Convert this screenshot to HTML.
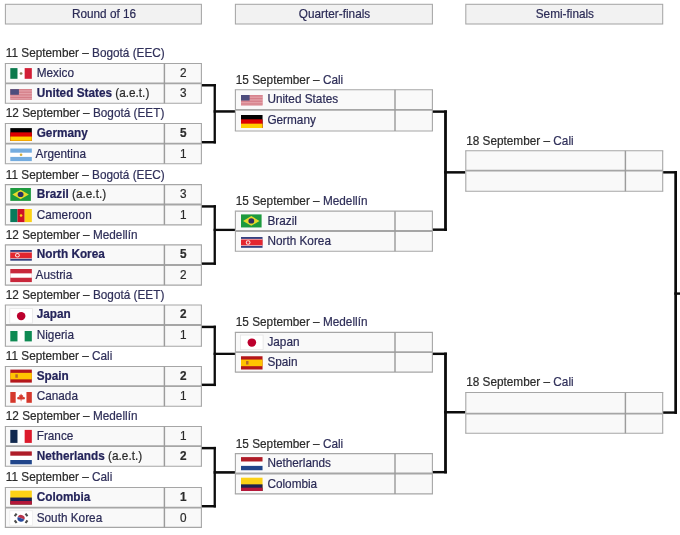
<!DOCTYPE html><html><head><meta charset="utf-8"><title>Bracket</title><style>html,body{margin:0;padding:0;background:#fff;}
body{width:680px;height:535px;overflow:hidden;}
svg{display:block;will-change:transform;filter:blur(0.3px);font-family:"Liberation Sans",sans-serif;font-size:11.8px;}
text{white-space:pre;stroke-width:0.2px}
.t{fill:#2b2b2b;stroke:#2b2b2b}
.k{fill:#2b2b56;stroke:#2b2b56}
.k[font-weight=bold]{fill:#24245a;stroke:#24245a}
tspan.k{fill:#30305a;stroke:#30305a}</style></head><body><svg width="680" height="535" viewBox="0 0 680 535"><rect width="680" height="535" fill="#fff"/><rect x="5.4" y="4.3" width="196.00" height="19.7" fill="#f2f2f2" stroke="#a6a6a6" stroke-width="1.05"/>
<text transform="translate(104.00 18.00) scale(1 1.065)" class="k" text-anchor="middle">Round of 16</text>
<rect x="235.4" y="4.3" width="197.00" height="19.7" fill="#f2f2f2" stroke="#a6a6a6" stroke-width="1.05"/>
<text transform="translate(334.50 18.00) scale(1 1.065)" class="k" text-anchor="middle">Quarter-finals</text>
<rect x="465.8" y="4.3" width="196.90" height="19.7" fill="#f2f2f2" stroke="#a6a6a6" stroke-width="1.05"/>
<text transform="translate(564.85 18.00) scale(1 1.065)" class="k" text-anchor="middle">Semi-finals</text>
<rect x="5.40" y="63.45" width="196.00" height="39.85" fill="#f9f9f9"/>
<line x1="4.85" y1="63.45" x2="201.95" y2="63.45" stroke="#a6a6a6" stroke-width="1.1"/>
<line x1="4.85" y1="103.30" x2="201.95" y2="103.30" stroke="#a6a6a6" stroke-width="1.1"/>
<line x1="5.40" y1="63.45" x2="5.40" y2="103.30" stroke="#a6a6a6" stroke-width="1.1"/>
<line x1="201.40" y1="63.45" x2="201.40" y2="103.30" stroke="#a6a6a6" stroke-width="1.1"/>
<line x1="5.40" y1="83.35" x2="201.40" y2="83.35" stroke="#a6a6a6" stroke-width="1.8"/>
<line x1="164.40" y1="63.45" x2="164.40" y2="103.30" stroke="#9c9c9c" stroke-width="1.45"/>
<text transform="translate(5.80 57.35) scale(1 1.065)" class="t">11 September – <tspan class="k">Bogotá (EEC)</tspan></text>
<g transform="translate(10.30 68.10) scale(0.9365 0.8231)"><rect width="23" height="13" fill="#fff"/><rect width="7.67" height="13" fill="#0c7a4d"/><rect x="15.33" width="7.67" height="13" fill="#d21f36"/><circle cx="11.5" cy="6.5" r="1.5" fill="#8b7d55"/></g>
<text transform="translate(36.70 76.90) scale(1 1.065)" class="k">Mexico</text>
<text transform="translate(183.30 76.90) scale(1 1.065)" class="t" text-anchor="middle">2</text>
<g transform="translate(10.30 89.15) scale(0.9365 0.8708)"><rect width="23" height="12" fill="#dc8d96"/><rect y="0.000" width="23" height="0.943" fill="#d27984"/><rect y="0.923" width="23" height="0.943" fill="#e7a9b0"/><rect y="1.846" width="23" height="0.943" fill="#d27984"/><rect y="2.769" width="23" height="0.943" fill="#e7a9b0"/><rect y="3.692" width="23" height="0.943" fill="#d27984"/><rect y="4.615" width="23" height="0.943" fill="#e7a9b0"/><rect y="5.538" width="23" height="0.943" fill="#d27984"/><rect y="6.462" width="23" height="0.943" fill="#e7a9b0"/><rect y="7.385" width="23" height="0.943" fill="#d27984"/><rect y="8.308" width="23" height="0.943" fill="#e7a9b0"/><rect y="9.231" width="23" height="0.943" fill="#d27984"/><rect y="10.154" width="23" height="0.943" fill="#e7a9b0"/><rect y="11.077" width="23" height="0.943" fill="#d27984"/><rect width="9.2" height="6.46" fill="#4e4d7d"/></g>
<text transform="translate(36.70 97.40) scale(1 1.065)" class="k" font-weight="bold">United States<tspan font-weight="normal" class="t"> (a.e.t.)</tspan></text>
<text transform="translate(183.30 97.40) scale(1 1.065)" class="t" text-anchor="middle">3</text>
<rect x="5.40" y="123.50" width="196.00" height="40.20" fill="#f9f9f9"/>
<line x1="4.85" y1="123.50" x2="201.95" y2="123.50" stroke="#a6a6a6" stroke-width="1.1"/>
<line x1="4.85" y1="163.70" x2="201.95" y2="163.70" stroke="#a6a6a6" stroke-width="1.1"/>
<line x1="5.40" y1="123.50" x2="5.40" y2="163.70" stroke="#a6a6a6" stroke-width="1.1"/>
<line x1="201.40" y1="123.50" x2="201.40" y2="163.70" stroke="#a6a6a6" stroke-width="1.1"/>
<line x1="5.40" y1="143.60" x2="201.40" y2="143.60" stroke="#a6a6a6" stroke-width="1.8"/>
<line x1="164.40" y1="123.50" x2="164.40" y2="163.70" stroke="#9c9c9c" stroke-width="1.45"/>
<text transform="translate(5.80 117.40) scale(1 1.065)" class="t">12 September – <tspan class="k">Bogotá (EET)</tspan></text>
<g transform="translate(10.30 128.10) scale(0.9365 0.9071)"><rect width="23" height="14" fill="#000"/><rect y="4.67" width="23" height="9.33" fill="#dd0000"/><rect y="9.33" width="23" height="4.67" fill="#ffce00"/></g>
<text transform="translate(36.70 136.95) scale(1 1.065)" class="k" font-weight="bold">Germany</text>
<text transform="translate(183.30 136.95) scale(1 1.065)" class="t" text-anchor="middle" font-weight="bold">5</text>
<g transform="translate(10.30 148.50) scale(0.9365 0.9000)"><rect width="23" height="14" fill="#fff"/><rect width="23" height="4.67" fill="#74acdf"/><rect y="9.33" width="23" height="4.67" fill="#74acdf"/><circle cx="11.5" cy="7" r="1.4" fill="#d4ae3a"/></g>
<text transform="translate(35.60 157.65) scale(1 1.065)" class="k">Argentina</text>
<text transform="translate(183.30 157.65) scale(1 1.065)" class="t" text-anchor="middle">1</text>
<rect x="5.40" y="184.60" width="196.00" height="40.25" fill="#f9f9f9"/>
<line x1="4.85" y1="184.60" x2="201.95" y2="184.60" stroke="#a6a6a6" stroke-width="1.1"/>
<line x1="4.85" y1="224.85" x2="201.95" y2="224.85" stroke="#a6a6a6" stroke-width="1.1"/>
<line x1="5.40" y1="184.60" x2="5.40" y2="224.85" stroke="#a6a6a6" stroke-width="1.1"/>
<line x1="201.40" y1="184.60" x2="201.40" y2="224.85" stroke="#a6a6a6" stroke-width="1.1"/>
<line x1="5.40" y1="204.50" x2="201.40" y2="204.50" stroke="#a6a6a6" stroke-width="1.8"/>
<line x1="164.40" y1="184.60" x2="164.40" y2="224.85" stroke="#9c9c9c" stroke-width="1.45"/>
<text transform="translate(5.80 178.50) scale(1 1.065)" class="t">11 September – <tspan class="k">Bogotá (EEC)</tspan></text>
<g transform="translate(10.30 188.00) scale(0.9365 0.8600)"><rect width="22" height="15" fill="#1d9a3e"/><path d="M11 1.9 L19.8 7.5 L11 13.1 L2.2 7.5Z" fill="#e6d92c"/><circle cx="11" cy="7.5" r="3.1" fill="#2c2f63"/></g>
<text transform="translate(36.70 198.05) scale(1 1.065)" class="k" font-weight="bold">Brazil<tspan font-weight="normal" class="t"> (a.e.t.)</tspan></text>
<text transform="translate(183.30 198.05) scale(1 1.065)" class="t" text-anchor="middle">3</text>
<g transform="translate(10.30 209.00) scale(0.9365 0.8733)"><rect width="7.7" height="15" fill="#0a7a5c"/><rect x="7.67" width="7.7" height="15" fill="#ce1126"/><rect x="15.33" width="7.67" height="15" fill="#fcd116"/><circle cx="11.5" cy="7.5" r="1.4" fill="#fcd116"/></g>
<text transform="translate(36.70 218.55) scale(1 1.065)" class="k">Cameroon</text>
<text transform="translate(183.30 218.55) scale(1 1.065)" class="t" text-anchor="middle">1</text>
<rect x="5.40" y="244.90" width="196.00" height="40.20" fill="#f9f9f9"/>
<line x1="4.85" y1="244.90" x2="201.95" y2="244.90" stroke="#a6a6a6" stroke-width="1.1"/>
<line x1="4.85" y1="285.10" x2="201.95" y2="285.10" stroke="#a6a6a6" stroke-width="1.1"/>
<line x1="5.40" y1="244.90" x2="5.40" y2="285.10" stroke="#a6a6a6" stroke-width="1.1"/>
<line x1="201.40" y1="244.90" x2="201.40" y2="285.10" stroke="#a6a6a6" stroke-width="1.1"/>
<line x1="5.40" y1="265.00" x2="201.40" y2="265.00" stroke="#a6a6a6" stroke-width="1.8"/>
<line x1="164.40" y1="244.90" x2="164.40" y2="285.10" stroke="#9c9c9c" stroke-width="1.45"/>
<text transform="translate(5.80 238.80) scale(1 1.065)" class="t">12 September – <tspan class="k">Medellín</tspan></text>
<g transform="translate(10.30 250.00) scale(0.9365 0.8917)"><rect width="23" height="12" fill="#36407f"/><rect y="2.1" width="23" height="7.8" fill="#f6c8cc"/><rect y="2.9" width="23" height="6.2" fill="#e3262f"/><circle cx="7.6" cy="6" r="2.5" fill="#fbe3e3"/><circle cx="7.6" cy="6" r="1.4" fill="#e3262f"/></g>
<text transform="translate(36.70 258.35) scale(1 1.065)" class="k" font-weight="bold">North Korea</text>
<text transform="translate(183.30 258.35) scale(1 1.065)" class="t" text-anchor="middle" font-weight="bold">5</text>
<g transform="translate(10.30 269.00) scale(0.9365 0.8733)"><rect width="23" height="15" fill="#c8283c"/><rect y="5" width="23" height="5" fill="#fff"/></g>
<text transform="translate(35.60 279.05) scale(1 1.065)" class="k">Austria</text>
<text transform="translate(183.30 279.05) scale(1 1.065)" class="t" text-anchor="middle">2</text>
<rect x="5.40" y="304.95" width="196.00" height="41.35" fill="#f9f9f9"/>
<line x1="4.85" y1="304.95" x2="201.95" y2="304.95" stroke="#a6a6a6" stroke-width="1.1"/>
<line x1="4.85" y1="346.30" x2="201.95" y2="346.30" stroke="#a6a6a6" stroke-width="1.1"/>
<line x1="5.40" y1="304.95" x2="5.40" y2="346.30" stroke="#a6a6a6" stroke-width="1.1"/>
<line x1="201.40" y1="304.95" x2="201.40" y2="346.30" stroke="#a6a6a6" stroke-width="1.1"/>
<line x1="5.40" y1="325.00" x2="201.40" y2="325.00" stroke="#a6a6a6" stroke-width="1.8"/>
<line x1="164.40" y1="304.95" x2="164.40" y2="346.30" stroke="#9c9c9c" stroke-width="1.45"/>
<text transform="translate(5.80 298.85) scale(1 1.065)" class="t">12 September – <tspan class="k">Bogotá (EET)</tspan></text>
<g transform="translate(10.30 309.15) scale(0.9365 0.9000)"><rect x="-0.6" y="-0.6" width="24.2" height="16.2" fill="#fff" stroke="#e6e6e6" stroke-width="0.9"/><circle cx="11.6" cy="7.7" r="4.6" fill="#bc002d"/></g>
<text transform="translate(36.70 318.40) scale(1 1.065)" class="k" font-weight="bold">Japan</text>
<text transform="translate(183.30 318.40) scale(1 1.065)" class="t" text-anchor="middle" font-weight="bold">2</text>
<g transform="translate(10.30 331.00) scale(0.9365 0.8667)"><rect width="23" height="12" fill="#fff"/><rect width="7.67" height="12" fill="#0e8a53"/><rect x="15.33" width="7.67" height="12" fill="#0e8a53"/></g>
<text transform="translate(36.70 339.05) scale(1 1.065)" class="k">Nigeria</text>
<text transform="translate(183.30 339.05) scale(1 1.065)" class="t" text-anchor="middle">1</text>
<rect x="5.40" y="366.50" width="196.00" height="39.70" fill="#f9f9f9"/>
<line x1="4.85" y1="366.50" x2="201.95" y2="366.50" stroke="#a6a6a6" stroke-width="1.1"/>
<line x1="4.85" y1="406.20" x2="201.95" y2="406.20" stroke="#a6a6a6" stroke-width="1.1"/>
<line x1="5.40" y1="366.50" x2="5.40" y2="406.20" stroke="#a6a6a6" stroke-width="1.1"/>
<line x1="201.40" y1="366.50" x2="201.40" y2="406.20" stroke="#a6a6a6" stroke-width="1.1"/>
<line x1="5.40" y1="386.20" x2="201.40" y2="386.20" stroke="#a6a6a6" stroke-width="1.8"/>
<line x1="164.40" y1="366.50" x2="164.40" y2="406.20" stroke="#9c9c9c" stroke-width="1.45"/>
<text transform="translate(5.80 360.40) scale(1 1.065)" class="t">11 September – <tspan class="k">Cali</tspan></text>
<g transform="translate(10.30 369.60) scale(0.9365 0.8667)"><rect width="23" height="15" fill="#b4171b"/><rect y="3.75" width="23" height="7.5" fill="#ffc400"/><rect x="5.4" y="5.4" width="2.6" height="4" fill="#b4682c"/></g>
<text transform="translate(36.70 379.95) scale(1 1.065)" class="k" font-weight="bold">Spain</text>
<text transform="translate(183.30 379.95) scale(1 1.065)" class="t" text-anchor="middle" font-weight="bold">2</text>
<g transform="translate(10.30 392.00) scale(0.9365 0.9000)"><rect width="23" height="12" fill="#fff"/><rect width="5.75" height="12" fill="#d5382c"/><rect x="17.25" width="5.75" height="12" fill="#d5382c"/><path d="M11.5 1.6 L12.5 3.8 L13.7 3.4 L13.3 6 L14.6 5.1 L14.8 6.1 L15.9 5.9 L15.3 8 L12.5 8.3 L11.85 8.3 L11.85 10.3 L11.15 10.3 L11.15 8.3 L10.5 8.3 L7.7 8 L7.1 5.9 L8.2 6.1 L8.4 5.1 L9.7 6 L9.3 3.4 L10.5 3.8Z" fill="#d5382c"/></g>
<text transform="translate(36.70 400.25) scale(1 1.065)" class="k">Canada</text>
<text transform="translate(183.30 400.25) scale(1 1.065)" class="t" text-anchor="middle">1</text>
<rect x="5.40" y="426.45" width="196.00" height="39.80" fill="#f9f9f9"/>
<line x1="4.85" y1="426.45" x2="201.95" y2="426.45" stroke="#a6a6a6" stroke-width="1.1"/>
<line x1="4.85" y1="466.25" x2="201.95" y2="466.25" stroke="#a6a6a6" stroke-width="1.1"/>
<line x1="5.40" y1="426.45" x2="5.40" y2="466.25" stroke="#a6a6a6" stroke-width="1.1"/>
<line x1="201.40" y1="426.45" x2="201.40" y2="466.25" stroke="#a6a6a6" stroke-width="1.1"/>
<line x1="5.40" y1="446.20" x2="201.40" y2="446.20" stroke="#a6a6a6" stroke-width="1.8"/>
<line x1="164.40" y1="426.45" x2="164.40" y2="466.25" stroke="#9c9c9c" stroke-width="1.45"/>
<text transform="translate(5.80 420.35) scale(1 1.065)" class="t">12 September – <tspan class="k">Medellín</tspan></text>
<g transform="translate(10.30 429.90) scale(0.9365 0.8667)"><rect width="23" height="15" fill="#fff"/><rect width="7.67" height="15" fill="#10284f"/><rect x="15.33" width="7.67" height="15" fill="#dc1a2c"/></g>
<text transform="translate(36.70 439.90) scale(1 1.065)" class="k">France</text>
<text transform="translate(183.30 439.90) scale(1 1.065)" class="t" text-anchor="middle">1</text>
<g transform="translate(10.30 451.40) scale(0.9365 0.8600)"><rect width="23" height="15" fill="#fff"/><rect width="23" height="5" fill="#ae1c28"/><rect y="10" width="23" height="5" fill="#21468b"/></g>
<text transform="translate(36.70 460.25) scale(1 1.065)" class="k" font-weight="bold">Netherlands<tspan font-weight="normal" class="t"> (a.e.t.)</tspan></text>
<text transform="translate(183.30 460.25) scale(1 1.065)" class="t" text-anchor="middle" font-weight="bold">2</text>
<rect x="5.40" y="487.50" width="196.00" height="39.90" fill="#f9f9f9"/>
<line x1="4.85" y1="487.50" x2="201.95" y2="487.50" stroke="#a6a6a6" stroke-width="1.1"/>
<line x1="4.85" y1="527.40" x2="201.95" y2="527.40" stroke="#a6a6a6" stroke-width="1.1"/>
<line x1="5.40" y1="487.50" x2="5.40" y2="527.40" stroke="#a6a6a6" stroke-width="1.1"/>
<line x1="201.40" y1="487.50" x2="201.40" y2="527.40" stroke="#a6a6a6" stroke-width="1.1"/>
<line x1="5.40" y1="507.60" x2="201.40" y2="507.60" stroke="#a6a6a6" stroke-width="1.8"/>
<line x1="164.40" y1="487.50" x2="164.40" y2="527.40" stroke="#9c9c9c" stroke-width="1.45"/>
<text transform="translate(5.80 481.40) scale(1 1.065)" class="t">11 September – <tspan class="k">Cali</tspan></text>
<g transform="translate(10.30 490.60) scale(0.9365 0.9267)"><rect width="23" height="15" fill="#fcd116"/><rect y="7.5" width="23" height="7.5" fill="#1c2150"/><rect y="11.25" width="23" height="3.75" fill="#b5183a"/></g>
<text transform="translate(36.70 500.95) scale(1 1.065)" class="k" font-weight="bold">Colombia</text>
<text transform="translate(183.30 500.95) scale(1 1.065)" class="t" text-anchor="middle" font-weight="bold">1</text>
<g transform="translate(10.30 511.30) scale(0.9365 0.9000)"><rect x="-0.6" y="-0.6" width="24.2" height="16.2" fill="#fff" stroke="#ededed" stroke-width="0.9"/><g transform="rotate(22 11.5 7.8)"><path d="M7.7 7.8 a3.8 3.8 0 0 1 7.6 0Z" fill="#b8344a"/><path d="M7.7 7.8 a3.8 3.8 0 0 0 7.6 0Z" fill="#284a9c"/></g><g fill="#4c4c4c"><rect x="3.9" y="2.9" width="3.6" height="2.3" transform="rotate(-56 5.7 4.05)"/><rect x="15.5" y="10.4" width="3.6" height="2.3" transform="rotate(-56 17.3 11.55)"/><rect x="15.5" y="2.9" width="3.6" height="2.3" transform="rotate(56 17.3 4.05)"/><rect x="3.9" y="10.4" width="3.6" height="2.3" transform="rotate(56 5.7 11.55)"/></g></g>
<text transform="translate(36.70 521.65) scale(1 1.065)" class="k">South Korea</text>
<text transform="translate(183.30 521.65) scale(1 1.065)" class="t" text-anchor="middle">0</text>
<rect x="235.40" y="89.75" width="197.00" height="41.25" fill="#f9f9f9"/>
<line x1="234.85" y1="89.75" x2="432.95" y2="89.75" stroke="#a6a6a6" stroke-width="1.1"/>
<line x1="234.85" y1="131.00" x2="432.95" y2="131.00" stroke="#a6a6a6" stroke-width="1.1"/>
<line x1="235.40" y1="89.75" x2="235.40" y2="131.00" stroke="#a6a6a6" stroke-width="1.1"/>
<line x1="432.40" y1="89.75" x2="432.40" y2="131.00" stroke="#a6a6a6" stroke-width="1.1"/>
<line x1="235.40" y1="109.90" x2="432.40" y2="109.90" stroke="#a6a6a6" stroke-width="1.8"/>
<line x1="395.00" y1="89.75" x2="395.00" y2="131.00" stroke="#9c9c9c" stroke-width="1.45"/>
<text transform="translate(235.80 83.65) scale(1 1.065)" class="t">15 September – <tspan class="k">Cali</tspan></text>
<g transform="translate(241.00 95.00) scale(0.9365 0.8583)"><rect width="23" height="12" fill="#dc8d96"/><rect y="0.000" width="23" height="0.943" fill="#d27984"/><rect y="0.923" width="23" height="0.943" fill="#e7a9b0"/><rect y="1.846" width="23" height="0.943" fill="#d27984"/><rect y="2.769" width="23" height="0.943" fill="#e7a9b0"/><rect y="3.692" width="23" height="0.943" fill="#d27984"/><rect y="4.615" width="23" height="0.943" fill="#e7a9b0"/><rect y="5.538" width="23" height="0.943" fill="#d27984"/><rect y="6.462" width="23" height="0.943" fill="#e7a9b0"/><rect y="7.385" width="23" height="0.943" fill="#d27984"/><rect y="8.308" width="23" height="0.943" fill="#e7a9b0"/><rect y="9.231" width="23" height="0.943" fill="#d27984"/><rect y="10.154" width="23" height="0.943" fill="#e7a9b0"/><rect y="11.077" width="23" height="0.943" fill="#d27984"/><rect width="9.2" height="6.46" fill="#4e4d7d"/></g>
<text transform="translate(267.40 103.20) scale(1 1.065)" class="k">United States</text>
<g transform="translate(241.00 115.00) scale(0.9365 0.9286)"><rect width="23" height="14" fill="#000"/><rect y="4.67" width="23" height="9.33" fill="#dd0000"/><rect y="9.33" width="23" height="4.67" fill="#ffce00"/></g>
<text transform="translate(267.40 123.95) scale(1 1.065)" class="k">Germany</text>
<rect x="235.40" y="211.15" width="197.00" height="40.05" fill="#f9f9f9"/>
<line x1="234.85" y1="211.15" x2="432.95" y2="211.15" stroke="#a6a6a6" stroke-width="1.1"/>
<line x1="234.85" y1="251.20" x2="432.95" y2="251.20" stroke="#a6a6a6" stroke-width="1.1"/>
<line x1="235.40" y1="211.15" x2="235.40" y2="251.20" stroke="#a6a6a6" stroke-width="1.1"/>
<line x1="432.40" y1="211.15" x2="432.40" y2="251.20" stroke="#a6a6a6" stroke-width="1.1"/>
<line x1="235.40" y1="231.00" x2="432.40" y2="231.00" stroke="#a6a6a6" stroke-width="1.8"/>
<line x1="395.00" y1="211.15" x2="395.00" y2="251.20" stroke="#9c9c9c" stroke-width="1.45"/>
<text transform="translate(235.80 205.05) scale(1 1.065)" class="t">15 September – <tspan class="k">Medellín</tspan></text>
<g transform="translate(241.00 214.40) scale(0.9365 0.8700)"><rect width="22" height="15" fill="#1d9a3e"/><path d="M11 1.9 L19.8 7.5 L11 13.1 L2.2 7.5Z" fill="#e6d92c"/><circle cx="11" cy="7.5" r="3.1" fill="#2c2f63"/></g>
<text transform="translate(267.40 224.60) scale(1 1.065)" class="k">Brazil</text>
<g transform="translate(241.00 237.00) scale(0.9365 0.9000)"><rect width="23" height="12" fill="#36407f"/><rect y="2.1" width="23" height="7.8" fill="#f6c8cc"/><rect y="2.9" width="23" height="6.2" fill="#e3262f"/><circle cx="7.6" cy="6" r="2.5" fill="#fbe3e3"/><circle cx="7.6" cy="6" r="1.4" fill="#e3262f"/></g>
<text transform="translate(267.40 245.05) scale(1 1.065)" class="k">North Korea</text>
<rect x="235.40" y="332.35" width="197.00" height="39.75" fill="#f9f9f9"/>
<line x1="234.85" y1="332.35" x2="432.95" y2="332.35" stroke="#a6a6a6" stroke-width="1.1"/>
<line x1="234.85" y1="372.10" x2="432.95" y2="372.10" stroke="#a6a6a6" stroke-width="1.1"/>
<line x1="235.40" y1="332.35" x2="235.40" y2="372.10" stroke="#a6a6a6" stroke-width="1.1"/>
<line x1="432.40" y1="332.35" x2="432.40" y2="372.10" stroke="#a6a6a6" stroke-width="1.1"/>
<line x1="235.40" y1="352.10" x2="432.40" y2="352.10" stroke="#a6a6a6" stroke-width="1.8"/>
<line x1="395.00" y1="332.35" x2="395.00" y2="372.10" stroke="#9c9c9c" stroke-width="1.45"/>
<text transform="translate(235.80 326.25) scale(1 1.065)" class="t">15 September – <tspan class="k">Medellín</tspan></text>
<g transform="translate(241.00 335.60) scale(0.9365 0.9000)"><rect x="-0.6" y="-0.6" width="24.2" height="16.2" fill="#fff" stroke="#e6e6e6" stroke-width="0.9"/><circle cx="11.6" cy="7.7" r="4.6" fill="#bc002d"/></g>
<text transform="translate(267.40 345.80) scale(1 1.065)" class="k">Japan</text>
<g transform="translate(241.00 356.25) scale(0.9365 0.8833)"><rect width="23" height="15" fill="#b4171b"/><rect y="3.75" width="23" height="7.5" fill="#ffc400"/><rect x="5.4" y="5.4" width="2.6" height="4" fill="#b4682c"/></g>
<text transform="translate(267.40 366.15) scale(1 1.065)" class="k">Spain</text>
<rect x="235.40" y="453.65" width="197.00" height="40.25" fill="#f9f9f9"/>
<line x1="234.85" y1="453.65" x2="432.95" y2="453.65" stroke="#a6a6a6" stroke-width="1.1"/>
<line x1="234.85" y1="493.90" x2="432.95" y2="493.90" stroke="#a6a6a6" stroke-width="1.1"/>
<line x1="235.40" y1="453.65" x2="235.40" y2="493.90" stroke="#a6a6a6" stroke-width="1.1"/>
<line x1="432.40" y1="453.65" x2="432.40" y2="493.90" stroke="#a6a6a6" stroke-width="1.1"/>
<line x1="235.40" y1="473.50" x2="432.40" y2="473.50" stroke="#a6a6a6" stroke-width="1.8"/>
<line x1="395.00" y1="453.65" x2="395.00" y2="493.90" stroke="#9c9c9c" stroke-width="1.45"/>
<text transform="translate(235.80 447.55) scale(1 1.065)" class="t">15 September – <tspan class="k">Cali</tspan></text>
<g transform="translate(241.00 457.10) scale(0.9365 0.8767)"><rect width="23" height="15" fill="#fff"/><rect width="23" height="5" fill="#ae1c28"/><rect y="10" width="23" height="5" fill="#21468b"/></g>
<text transform="translate(267.40 467.10) scale(1 1.065)" class="k">Netherlands</text>
<g transform="translate(241.00 477.70) scale(0.9365 0.8867)"><rect width="23" height="15" fill="#fcd116"/><rect y="7.5" width="23" height="7.5" fill="#1c2150"/><rect y="11.25" width="23" height="3.75" fill="#b5183a"/></g>
<text transform="translate(267.40 487.55) scale(1 1.065)" class="k">Colombia</text>
<rect x="465.80" y="150.80" width="196.90" height="40.50" fill="#f9f9f9"/>
<line x1="465.25" y1="150.80" x2="663.25" y2="150.80" stroke="#a6a6a6" stroke-width="1.1"/>
<line x1="465.25" y1="191.30" x2="663.25" y2="191.30" stroke="#a6a6a6" stroke-width="1.1"/>
<line x1="465.80" y1="150.80" x2="465.80" y2="191.30" stroke="#a6a6a6" stroke-width="1.1"/>
<line x1="662.70" y1="150.80" x2="662.70" y2="191.30" stroke="#a6a6a6" stroke-width="1.1"/>
<line x1="465.80" y1="170.70" x2="662.70" y2="170.70" stroke="#a6a6a6" stroke-width="1.8"/>
<line x1="625.40" y1="150.80" x2="625.40" y2="191.30" stroke="#9c9c9c" stroke-width="1.45"/>
<text transform="translate(466.20 144.70) scale(1 1.065)" class="t">18 September – <tspan class="k">Cali</tspan></text>
<rect x="465.80" y="392.55" width="196.90" height="40.75" fill="#f9f9f9"/>
<line x1="465.25" y1="392.55" x2="663.25" y2="392.55" stroke="#a6a6a6" stroke-width="1.1"/>
<line x1="465.25" y1="433.30" x2="663.25" y2="433.30" stroke="#a6a6a6" stroke-width="1.1"/>
<line x1="465.80" y1="392.55" x2="465.80" y2="433.30" stroke="#a6a6a6" stroke-width="1.1"/>
<line x1="662.70" y1="392.55" x2="662.70" y2="433.30" stroke="#a6a6a6" stroke-width="1.1"/>
<line x1="465.80" y1="413.60" x2="662.70" y2="413.60" stroke="#a6a6a6" stroke-width="1.8"/>
<line x1="625.40" y1="392.55" x2="625.40" y2="433.30" stroke="#9c9c9c" stroke-width="1.45"/>
<text transform="translate(466.20 386.45) scale(1 1.065)" class="t">18 September – <tspan class="k">Cali</tspan></text>
<rect x="201.90" y="84.05" width="14.00" height="2.45" fill="#0c0c0c"/>
<rect x="201.90" y="141.00" width="14.00" height="2.45" fill="#0c0c0c"/>
<rect x="213.60" y="84.05" width="2.30" height="59.40" fill="#0c0c0c"/>
<rect x="213.60" y="110.20" width="21.30" height="2.50" fill="#0c0c0c"/>
<rect x="201.90" y="205.20" width="14.00" height="2.45" fill="#0c0c0c"/>
<rect x="201.90" y="262.40" width="14.00" height="2.45" fill="#0c0c0c"/>
<rect x="213.60" y="205.20" width="2.30" height="59.65" fill="#0c0c0c"/>
<rect x="213.60" y="228.75" width="21.30" height="2.30" fill="#0c0c0c"/>
<rect x="201.90" y="325.70" width="14.00" height="2.45" fill="#0c0c0c"/>
<rect x="201.90" y="383.60" width="14.00" height="2.45" fill="#0c0c0c"/>
<rect x="213.60" y="325.70" width="2.30" height="60.35" fill="#0c0c0c"/>
<rect x="213.60" y="352.70" width="21.30" height="2.30" fill="#0c0c0c"/>
<rect x="201.90" y="446.90" width="14.00" height="2.45" fill="#0c0c0c"/>
<rect x="201.90" y="505.00" width="14.00" height="2.45" fill="#0c0c0c"/>
<rect x="213.60" y="446.90" width="2.30" height="60.55" fill="#0c0c0c"/>
<rect x="213.60" y="471.10" width="21.30" height="2.60" fill="#0c0c0c"/>
<rect x="432.90" y="110.40" width="14.00" height="2.45" fill="#0c0c0c"/>
<rect x="432.90" y="228.45" width="14.00" height="2.45" fill="#0c0c0c"/>
<rect x="444.10" y="110.40" width="2.80" height="120.50" fill="#0c0c0c"/>
<rect x="444.10" y="171.10" width="21.00" height="2.50" fill="#0c0c0c"/>
<rect x="432.90" y="352.60" width="14.00" height="2.45" fill="#0c0c0c"/>
<rect x="432.90" y="470.95" width="14.00" height="2.45" fill="#0c0c0c"/>
<rect x="444.10" y="352.60" width="2.80" height="120.80" fill="#0c0c0c"/>
<rect x="444.10" y="411.00" width="21.00" height="2.50" fill="#0c0c0c"/>
<rect x="663.20" y="171.10" width="13.80" height="2.45" fill="#0c0c0c"/>
<rect x="663.20" y="411.35" width="13.80" height="2.45" fill="#0c0c0c"/>
<rect x="674.30" y="171.10" width="2.70" height="242.70" fill="#0c0c0c"/>
<rect x="674.30" y="292.40" width="5.70" height="2.40" fill="#0c0c0c"/></svg></body></html>
